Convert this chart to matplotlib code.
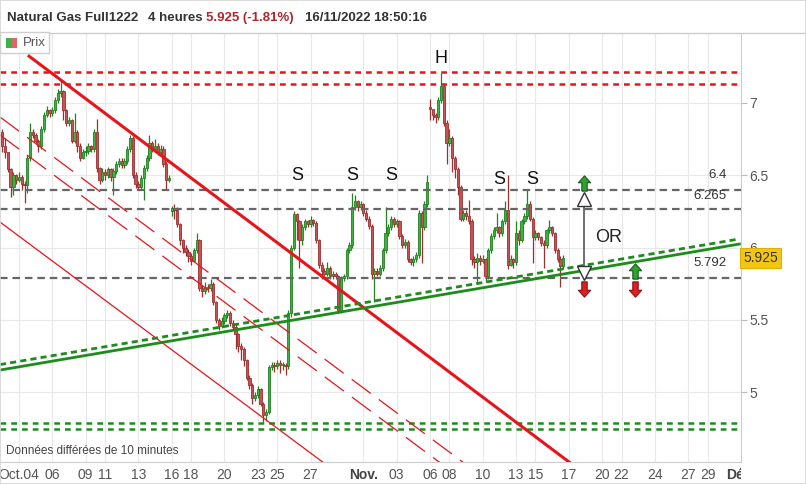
import datetime as dt
import matplotlib
matplotlib.use("Agg")
import matplotlib.pyplot as plt
from matplotlib.lines import Line2D
from matplotlib.patches import Rectangle
from matplotlib.transforms import Bbox, TransformedBbox, blended_transform_factory

plt.rcParams["font.family"] = ["Liberation Sans", "DejaVu Sans"]

# ── Data: Natural Gas 4h candles, 03/10/2022 -> 16/11/2022 ─────────────────────
FIRST_DAY = dt.date(2022, 10, 3)
ORIGIN_DAY = dt.date(2022, 10, 4)
LAST_DAY = dt.date(2022, 12, 2)
FIRST_OPEN = 6.80
GAP_OPENS = {55: 6.25, 148: 6.97}   # weekend gaps (slot -> open)

CLOSES = [
    6.70, 6.66, 6.54, 6.42, 6.50, 6.47, 6.49, 6.44, 6.43, 6.62,
    6.80, 6.78, 6.74, 6.70, 6.82, 6.92, 6.95, 6.93, 6.95, 7.02,
    7.07, 7.08, 6.95, 6.86, 6.88, 6.74, 6.80, 6.70, 6.62, 6.66,
    6.67, 6.70, 6.68, 6.80, 6.55, 6.47, 6.52, 6.50, 6.54, 6.49,
    6.53, 6.58, 6.60, 6.57, 6.60, 6.68, 6.76, 6.50, 6.44, 6.42,
    6.48, 6.55, 6.62, 6.72, 6.68, 6.70, 6.66, 6.68, 6.58, 6.47,
    6.48, 6.27, 6.26, 6.16, 6.05, 6.00, 5.97, 5.94, 5.91, 5.98,
    6.05, 5.72, 5.70, 5.73, 5.72, 5.75, 5.62, 5.50, 5.46, 5.49,
    5.53, 5.55, 5.48, 5.45, 5.40, 5.32, 5.30, 5.22, 5.10, 5.05,
    4.96, 4.98, 5.02, 4.92, 4.84, 4.86, 5.17, 5.19, 5.18, 5.20,
    5.19, 5.19, 5.18, 5.55, 6.00, 6.23, 6.18, 6.05, 6.14, 6.18,
    6.16, 6.19, 6.17, 6.05, 5.88, 5.84, 5.82, 5.86, 5.80, 5.82,
    5.80, 5.56, 5.79, 5.80, 5.98, 6.02, 6.28, 6.32, 6.28, 6.30,
    6.24, 6.20, 6.15, 5.82, 5.84, 5.82, 5.86, 5.98, 6.10, 6.14,
    6.20, 6.16, 6.18, 6.08, 6.02, 6.04, 5.92, 5.90, 5.92, 5.95,
    6.24, 6.14, 6.30, 6.45, 6.96, 6.92, 6.90, 7.02, 7.12, 6.86,
    6.72, 6.76, 6.62, 6.54, 6.42, 6.20, 6.24, 6.22, 6.18, 5.92,
    5.90, 5.93, 5.91, 5.92, 5.80, 5.98, 6.08, 6.12, 6.14, 6.10,
    6.18, 6.26, 5.88, 5.92, 5.90, 6.10, 6.05, 6.18, 6.22, 6.30,
    6.20, 6.07, 6.10, 6.07, 6.03, 6.02, 6.12, 6.14, 6.10, 5.98, 5.92, 5.87, 5.925,
]
HIGHS = [
    6.82, 6.76, 6.66, 6.55, 6.52, 6.51, 6.52, 6.50, 6.46, 6.64,
    6.86, 6.82, 6.79, 6.75, 6.84, 6.94, 6.98, 6.96, 6.97, 7.04,
    7.10, 7.16, 7.09, 6.96, 6.90, 6.89, 6.93, 6.81, 6.72, 6.68,
    6.70, 6.72, 6.71, 6.82, 6.89, 6.56, 6.55, 6.54, 6.56, 6.55,
    6.55, 6.60, 6.62, 6.62, 6.62, 6.70, 6.78, 6.77, 6.52, 6.46,
    6.50, 6.57, 6.64, 6.78, 6.74, 6.75, 6.72, 6.71, 6.70, 6.60,
    6.50, 6.29, 6.30, 6.28, 6.17, 6.06, 6.02, 5.99, 5.96, 6.00,
    6.10, 6.06, 5.74, 5.76, 5.75, 5.78, 5.76, 5.63, 5.51, 5.52,
    5.55, 5.57, 5.56, 5.50, 5.47, 5.41, 5.34, 5.31, 5.23, 5.12,
    5.06, 5.00, 5.04, 5.03, 4.93, 4.88, 5.19, 5.21, 5.21, 5.22,
    5.22, 5.21, 5.20, 5.57, 6.02, 6.25, 6.24, 6.19, 6.16, 6.20,
    6.19, 6.22, 6.20, 6.18, 6.06, 5.90, 5.86, 5.90, 5.87, 5.84,
    5.83, 5.81, 5.80, 5.82, 6.00, 6.04, 6.38, 6.36, 6.33, 6.32,
    6.31, 6.26, 6.22, 6.16, 5.86, 5.86, 5.88, 6.00, 6.28, 6.16,
    6.22, 6.21, 6.20, 6.19, 6.09, 6.06, 6.05, 5.93, 5.94, 5.97,
    6.26, 6.25, 6.32, 6.50, 7.03, 6.95, 6.93, 7.04, 7.21, 7.13,
    6.88, 6.82, 6.77, 6.63, 6.56, 6.43, 6.26, 6.26, 6.33, 6.20,
    5.94, 5.96, 5.95, 5.95, 5.93, 6.00, 6.10, 6.14, 6.24, 6.15,
    6.20, 6.32, 6.50, 5.95, 5.93, 6.18, 6.12, 6.20, 6.24, 6.40,
    6.32, 6.21, 6.12, 6.11, 6.08, 6.05, 6.13, 6.19, 6.15, 6.11, 6.00, 5.94, 5.95,
]
LOWS = [
    6.66, 6.62, 6.52, 6.35, 6.36, 6.44, 6.45, 6.40, 6.31, 6.38,
    6.60, 6.76, 6.72, 6.66, 6.68, 6.80, 6.90, 6.90, 6.91, 6.93,
    7.00, 7.04, 6.88, 6.84, 6.84, 6.72, 6.72, 6.66, 6.60, 6.61,
    6.63, 6.65, 6.66, 6.66, 6.52, 6.44, 6.45, 6.47, 6.48, 6.46,
    6.36, 6.51, 6.56, 6.55, 6.55, 6.58, 6.66, 6.48, 6.41, 6.40,
    6.40, 6.33, 6.53, 6.60, 6.66, 6.66, 6.64, 6.64, 6.56, 6.40,
    6.45, 6.22, 6.20, 6.14, 6.02, 5.96, 5.94, 5.90, 5.88, 5.90,
    5.96, 5.70, 5.66, 5.68, 5.69, 5.70, 5.60, 5.48, 5.43, 5.44,
    5.47, 5.51, 5.46, 5.43, 5.30, 5.28, 5.22, 5.18, 5.08, 5.02,
    4.92, 4.94, 4.96, 4.90, 4.79, 4.80, 4.85, 5.15, 5.14, 5.16,
    5.13, 5.15, 5.12, 5.16, 5.52, 5.98, 6.05, 5.86, 6.02, 6.12,
    6.14, 6.14, 6.15, 6.03, 5.86, 5.78, 5.80, 5.80, 5.78, 5.78,
    5.78, 5.55, 5.55, 5.77, 5.78, 5.96, 6.00, 6.26, 6.25, 6.26,
    6.22, 6.18, 6.13, 5.78, 5.62, 5.80, 5.80, 5.84, 5.96, 6.08,
    6.12, 6.14, 6.14, 6.06, 6.00, 6.00, 5.90, 5.88, 5.87, 5.90,
    5.93, 5.89, 6.12, 6.28, 6.88, 6.88, 6.86, 6.88, 7.00, 6.84,
    6.58, 6.70, 6.52, 6.48, 6.36, 6.18, 6.18, 6.19, 6.16, 5.88,
    5.86, 5.75, 5.88, 5.89, 5.76, 5.78, 5.96, 6.06, 6.10, 6.07,
    6.08, 6.16, 5.85, 5.87, 5.86, 5.88, 6.02, 6.04, 6.16, 6.20,
    6.18, 5.89, 6.05, 6.05, 6.01, 5.86, 6.00, 6.10, 6.08, 5.96, 5.90, 5.73, 5.85,
]

RED_LEVELS = [7.215, 7.131]
GREEN_LEVELS = [4.785, 4.744]
GRAY_LEVELS = [6.4, 6.265, 5.792]
GRAY_LABELS = ["6.4", "6.265", "5.792"]
LAST_PRICE = 5.925

Y_TICKS = [5, 5.5, 6, 6.5, 7]
Y_LABELS = ["5", "5.5", "6", "6.5", "7"]
TICK_DATES = [
    ((10, 4), "Oct.04"), ((10, 6), "06"), ((10, 9), "09"), ((10, 11), "11"),
    ((10, 13), "13"), ((10, 16), "16"), ((10, 18), "18"), ((10, 20), "20"),
    ((10, 23), "23"), ((10, 25), "25"), ((10, 27), "27"), ((11, 1), "Nov."),
    ((11, 3), "03"), ((11, 6), "06"), ((11, 8), "08"), ((11, 10), "10"),
    ((11, 13), "13"), ((11, 15), "15"), ((11, 17), "17"), ((11, 20), "20"),
    ((11, 22), "22"), ((11, 24), "24"), ((11, 27), "27"), ((11, 29), "29"),
    ((12, 1), "Déc."),
]

# ── Palette ────────────────────────────────────────────────────────────────────
RED = "#e8141c"
GREEN = "#1d8c1d"
GRAY = "#666666"
UP_FACE, UP_EDGE = "#3cb33c", "#238023"
DN_FACE, DN_EDGE = "#c65353", "#9e2f2f"
W, H = 806, 484


# 4h slots: 6 per weekday, 1 on Sunday evening, none on Saturday
def build_calendar(first, last, origin):
    slots = {}
    pos = 0
    d = first
    while d <= last:
        slots[d] = pos
        wd = d.weekday()
        pos += 0 if wd == 5 else (1 if wd == 6 else 6)
        d += dt.timedelta(days=1)
    shift = slots[origin]
    return {k: v - shift for k, v in slots.items()}


cal = build_calendar(FIRST_DAY, LAST_DAY, ORIGIN_DAY)
slot0 = cal[FIRST_DAY]
xs = [slot0 + i for i in range(len(CLOSES))]
opens = [FIRST_OPEN] + CLOSES[:-1]
for s, o in GAP_OPENS.items():
    opens[s - slot0] = o

fig = plt.figure(figsize=(W / 100, H / 100), dpi=100)
fig.patch.set_facecolor("white")
ax = fig.add_axes([0, 22 / H, 741 / W, 429 / H])
ax.set_xlim(-6.83, 259.4)
ax.set_ylim(4.516, 7.484)

# grid
tick_pos = [cal[dt.date(2022, m, d)] for (m, d), _ in TICK_DATES]
ax.set_xticks(tick_pos)
ax.set_xticklabels([lab for _, lab in TICK_DATES])
ax.set_yticks(Y_TICKS)
ax.set_yticklabels(Y_LABELS)
ax.grid(True, color="#e8e8e8", lw=0.8, zorder=0)
ax.set_axisbelow(True)

# candles
up = [c >= o for o, c in zip(opens, CLOSES)]
ax.vlines(xs, LOWS, HIGHS, colors=[UP_EDGE if u else DN_EDGE for u in up],
          lw=0.9, zorder=3)
ax.bar(xs, [max(abs(c - o), 0.006) for o, c in zip(opens, CLOSES)],
       bottom=[min(o, c) for o, c in zip(opens, CLOSES)], width=0.82,
       color=[UP_FACE if u else DN_FACE for u in up],
       edgecolor=[UP_EDGE if u else DN_EDGE for u in up], lw=0.6, zorder=3)

# horizontal levels
for v in RED_LEVELS:
    ax.axhline(v, color=RED, lw=1.8, dashes=(2.3, 2.0), zorder=4)
for v in GREEN_LEVELS:
    ax.axhline(v, color=GREEN, lw=1.8, dashes=(2.3, 2.0), zorder=4)
for v in GRAY_LEVELS:
    ax.axhline(v, color=GRAY, lw=1.6, dashes=(3.4, 2.2), zorder=4)
for v, txt, ty in zip(GRAY_LEVELS, GRAY_LABELS, [6.50, 6.355, 5.89]):
    ax.text(254.8, ty, txt, ha="right", va="center", fontsize=9.5,
            color="#333333", zorder=6)

# channel lines
ax.plot([3.2, 198.5], [7.33, 4.51], color=RED, lw=2.2, zorder=5,
        solid_capstyle="butt")
ax.plot([-6.83, 112], [6.176, 4.478], color=RED, lw=0.9, zorder=5)
ax.plot([-6.83, 162], [6.903, 4.484], color=RED, lw=0.9, dashes=(19, 8), zorder=5)
ax.plot([-6.83, 154], [6.779, 4.477], color=RED, lw=0.9, dashes=(19, 8), zorder=5)

# rising support
ax.plot([-6.83, 259.4], [5.152, 6.024], color=GREEN, lw=2.0, zorder=5)
ax.plot([-6.83, 259.4], [5.190, 6.059], color=GREEN, lw=2.0, dashes=(2.2, 1.5),
        zorder=5)

# pattern labels
for sx, sy in [(100.3, 6.495), (120, 6.495), (134, 6.495), (172.8, 6.467), (184.7, 6.467)]:
    ax.text(sx, sy, "S", ha="center", va="center", fontsize=13, color="#111111", zorder=6)
ax.text(152, 7.311, "H", ha="center", va="center", fontsize=13, color="#111111", zorder=6)
ax.text(212.4, 6.066, "OR", ha="center", va="center", fontsize=13, color="#222222", zorder=6)

# break-out scenario
ARROW = [(-0.35, -1), (0.35, -1), (0.35, 0.1), (0.8, 0.1), (0, 1), (-0.8, 0.1), (-0.35, 0.1), (-0.35, -1)]
ARROW_DN = [(x, -y) for x, y in ARROW]
ax.plot([203.4, 203.4], [6.30, 5.86], color="#555555", lw=1.2, zorder=6)
ax.plot(203.4, 6.336, marker="^", ms=9.5, mfc="white", mec="#333333", mew=1, zorder=7)
ax.plot(203.4, 5.827, marker="v", ms=9.5, mfc="white", mec="#333333", mew=1, zorder=7)
for px, py, mk, fc, ec in [(203.4, 6.446, ARROW, "#2ea32e", "#185c18"),
                           (221.7, 5.837, ARROW, "#2ea32e", "#185c18"),
                           (203.4, 5.713, ARROW_DN, "#e02020", "#8a1010"),
                           (221.7, 5.713, ARROW_DN, "#e02020", "#8a1010")]:
    ax.plot(px, py, marker=mk, ms=11, mfc=fc, mec=ec, mew=0.8, zorder=7)

# last price tag
trans = blended_transform_factory(ax.transAxes, ax.transData)
ax.text(1.003, LAST_PRICE, "5.925", transform=trans, ha="left", va="center",
        fontsize=10, color="#333333", clip_on=False, zorder=8,
        bbox=dict(boxstyle="square,pad=0.22", fc="#f3c614", ec="#e0b000", lw=0.8))

# axes styling
ax.yaxis.tick_right()
ax.tick_params(axis="y", labelsize=10, labelcolor="#555555", length=4,
               color="#bbbbbb", pad=2)
ax.tick_params(axis="x", labelsize=10, labelcolor="#555555", length=0, pad=4)
for lab in ax.get_xticklabels():
    if lab.get_text() in ("Nov.", "Déc."):
        lab.set_fontweight("bold")
        lab.set_color("#444444")
    lab.set_clip_on(True)
    lab.set_clip_box(TransformedBbox(Bbox([[0, -1], [1, 0]]), ax.transAxes))
for side in ("left", "top"):
    ax.spines[side].set_visible(False)
for side in ("right", "bottom"):
    ax.spines[side].set_color("#cccccc")

# header
fig.add_artist(Line2D([0, 1], [1 - 32.5 / H] * 2, transform=fig.transFigure,
                      color="#cccccc", lw=1))
hy = 1 - 18 / H
fig.text(7 / W, hy, "Natural Gas Full1222", fontsize=9.5, fontweight="bold",
         color="#333333", va="center")
fig.text(148 / W, hy, "4 heures", fontsize=9.5, fontweight="bold",
         color="#333333", va="center")
fig.text(206 / W, hy, "5.925 (-1.81%)", fontsize=9.5, fontweight="bold",
         color="#b0262b", va="center")
fig.text(305 / W, hy, "16/11/2022 18:50:16", fontsize=9.5, fontweight="bold",
         color="#333333", va="center")

# legend box "Prix"
fig.add_artist(Rectangle((0, 1 - 53 / H), 49 / W, 20.5 / H, transform=fig.transFigure,
                         fc="white", ec="#cfcfcf", lw=1, zorder=10))
fig.add_artist(Rectangle((6 / W, 1 - 48 / H), 5.5 / W, 10 / H, transform=fig.transFigure,
                         fc="#3cb34a", ec="none", zorder=11))
fig.add_artist(Rectangle((11.5 / W, 1 - 48 / H), 5.5 / W, 10 / H, transform=fig.transFigure,
                         fc="#e26565", ec="none", zorder=11))
fig.text(23 / W, 1 - 43.5 / H, "Prix", fontsize=9.5, color="#555555", va="center",
         zorder=12)

fig.text(6 / W, 1 - 451 / H, "Données différées de 10 minutes", fontsize=8.5,
         color="#444444", va="center")

fig.add_artist(Rectangle((0, 0), 1, 1, transform=fig.transFigure, fill=False,
                         ec="#d4d4d4", lw=1.2))

fig.savefig("out.png", dpi=100, facecolor="white")
